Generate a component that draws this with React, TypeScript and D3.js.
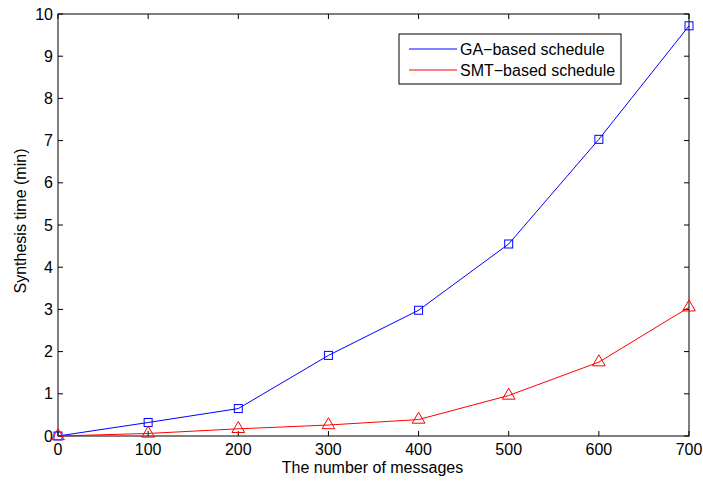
import { useRef, useEffect } from 'react';
import * as d3 from 'd3';

const messages = [0, 100, 200, 300, 400, 500, 600, 700];
const gaTimes = [0, 0.32, 0.65, 1.91, 2.98, 4.55, 7.03, 9.72];
const smtTimes = [0, 0.06, 0.17, 0.26, 0.39, 0.96, 1.75, 3.05];
const xTicks = [0, 100, 200, 300, 400, 500, 600, 700];
const yTicks = [0, 1, 2, 3, 4, 5, 6, 7, 8, 9, 10];
const seriesNames = ['GA\u2212based schedule', 'SMT\u2212based schedule'];

const W = 703;
const H = 482;
const M = { top: 14, right: 14, bottom: 46, left: 58 };
const FONT = 'Liberation Sans, Arial, sans-serif';

export default function App() {
  const svgRef = useRef<SVGSVGElement>(null);

  useEffect(() => {
    if (!svgRef.current) return;
    const svg = d3.select(svgRef.current);
    svg.selectAll('*').remove();

    const innerW = W - M.left - M.right;
    const innerH = H - M.top - M.bottom;
    const x = d3.scaleLinear().domain([0, 700]).range([0, innerW]);
    const y = d3.scaleLinear().domain([0, 10]).range([innerH, 0]);

    const g = svg.append('g').attr('transform', `translate(${M.left},${M.top})`);

    // box
    g.append('rect')
      .attr('x', 0).attr('y', 0).attr('width', innerW).attr('height', innerH)
      .attr('fill', 'none').attr('stroke', '#000').attr('stroke-width', 1);

    const tl = 5;
    // inward ticks on all four sides
    xTicks.forEach(t => {
      g.append('line').attr('x1', x(t)).attr('x2', x(t)).attr('y1', innerH).attr('y2', innerH - tl)
        .attr('stroke', '#000');
      g.append('line').attr('x1', x(t)).attr('x2', x(t)).attr('y1', 0).attr('y2', tl)
        .attr('stroke', '#000');
      g.append('text').attr('x', x(t)).attr('y', innerH + 19)
        .attr('text-anchor', 'middle').attr('font-family', FONT).attr('font-size', 16)
        .attr('fill', '#000').text(t);
    });
    yTicks.forEach(t => {
      g.append('line').attr('x1', 0).attr('x2', tl).attr('y1', y(t)).attr('y2', y(t))
        .attr('stroke', '#000');
      g.append('line').attr('x1', innerW).attr('x2', innerW - tl).attr('y1', y(t)).attr('y2', y(t))
        .attr('stroke', '#000');
      g.append('text').attr('x', -5).attr('y', y(t)).attr('dy', '0.35em')
        .attr('text-anchor', 'end').attr('font-family', FONT).attr('font-size', 16)
        .attr('fill', '#000').text(t);
    });

    // axis labels
    svg.append('text')
      .attr('x', M.left + innerW / 2 - 1).attr('y', H - 9)
      .attr('text-anchor', 'middle').attr('font-family', FONT).attr('font-size', 16)
      .text('The number of messages');
    svg.append('text')
      .attr('transform', `translate(26,${M.top + innerH / 2 - 4}) rotate(-90)`)
      .attr('text-anchor', 'middle').attr('font-family', FONT).attr('font-size', 16)
      .text('Synthesis time (min)');

    const line = d3.line<number>().x((_, i) => x(messages[i])).y(d => y(d));

    // GA series
    g.append('path').datum(gaTimes).attr('d', line)
      .attr('fill', 'none').attr('stroke', '#0000ff').attr('stroke-width', 1);
    g.selectAll('rect.ga').data(gaTimes).join('rect').attr('class', 'ga')
      .attr('x', (_, i) => x(messages[i]) - 4).attr('y', d => y(d) - 4)
      .attr('width', 8).attr('height', 8)
      .attr('fill', 'none').attr('stroke', '#0000ff').attr('stroke-width', 1);

    // SMT series
    g.append('path').datum(smtTimes).attr('d', line)
      .attr('fill', 'none').attr('stroke', '#ff0000').attr('stroke-width', 1);
    const tri = d3.symbol().type(d3.symbolTriangle).size(70);
    g.selectAll('path.smt').data(smtTimes).join('path').attr('class', 'smt')
      .attr('transform', (d, i) => `translate(${x(messages[i])},${y(d)})`)
      .attr('d', tri())
      .attr('fill', 'none').attr('stroke', '#ff0000').attr('stroke-width', 1);

    // legend
    const lg = svg.append('g').attr('transform', 'translate(399,34)');
    lg.append('rect').attr('x', 0).attr('y', 0).attr('width', 222).attr('height', 50)
      .attr('fill', '#fff').attr('stroke', '#000').attr('stroke-width', 1);
    const colors = ['#0000ff', '#ff0000'];
    seriesNames.forEach((name, i) => {
      const yy = 15 + i * 21;
      lg.append('line').attr('x1', 10).attr('x2', 58).attr('y1', yy).attr('y2', yy)
        .attr('stroke', colors[i]).attr('stroke-width', 1);
      lg.append('text').attr('x', 61).attr('y', yy).attr('dy', '0.35em')
        .attr('font-family', FONT).attr('font-size', 16).text(name);
    });
  }, []);

  return (
    <svg ref={svgRef} width={W} height={H}
      style={{ position: 'absolute', left: 0, top: 0, background: '#fff' }} />
  );
}
